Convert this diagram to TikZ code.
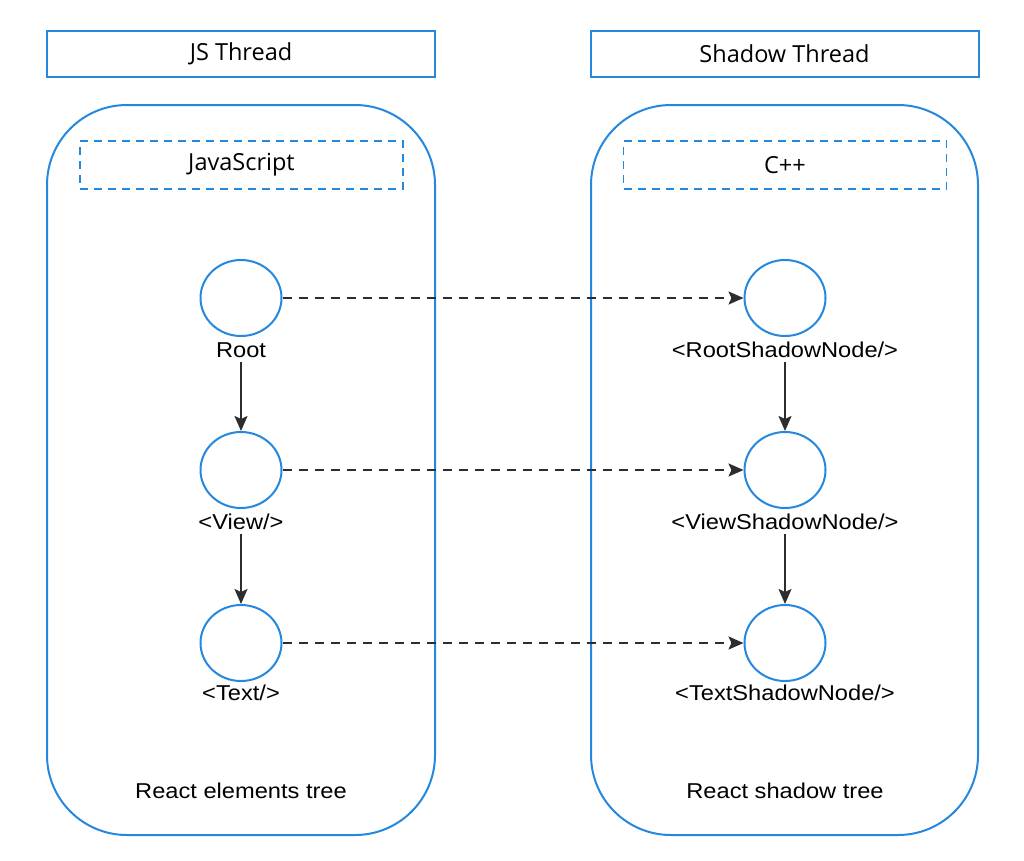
\documentclass[tikz,border=0pt]{standalone}
\usepackage{fontspec}
\setmainfont{Open Sans}
\newfontfamily\labfont[FakeStretch=1.1]{Liberation Sans}
\usetikzlibrary{arrows.meta,shapes.geometric}
\definecolor{bl}{RGB}{36,136,222}
\definecolor{ar}{RGB}{45,45,45}
\tikzset{
  hdr/.style={draw=bl,line width=2pt,minimum width=388pt,minimum height=46pt,inner sep=0pt,font=\fontsize{23.5}{27}\selectfont},
  lang/.style={draw=bl,line width=1.8pt,dash pattern=on 8pt off 6pt,minimum width=323pt,minimum height=48pt,inner sep=0pt,font=\fontsize{23.5}{27}\selectfont},
  big/.style={draw=bl,line width=2pt,rounded corners=80pt},
  circ/.style={draw=bl,line width=2pt,ellipse,minimum width=81pt,minimum height=76pt,inner sep=0pt},
  lab/.style={font=\labfont\fontsize{21.5}{24}\selectfont,inner sep=1pt},
  tree/.style={-{Stealth[length=15pt,width=13pt,inset=3pt]},draw=ar,line width=2pt},
  map/.style={-{Stealth[length=15pt,width=13pt,inset=3pt]},draw=ar,line width=2pt,dash pattern=on 9pt off 7pt},
}
\begin{document}
\begin{tikzpicture}[x=1pt,y=-1pt]
\useasboundingbox (0,0) rectangle (1024,860);
% headers
\node[hdr] (jsh) at (241,54) {JS Thread};
\node[hdr] (shh) at (784.5,54) {Shadow Thread};
% big boxes
\draw[big] (47,105) rectangle (435,835);
\draw[big] (591,105) rectangle (978,835);
% language boxes
\node[lang] (js) at (241.5,165) {JavaScript};
\node[lang] (cpp) at (785,165) {C++};
% left tree
\node[circ] (r) at (241,298) {};
\node[circ] (v) at (241,470) {};
\node[circ] (t) at (241,643) {};
\node[lab] (rl) at (241,350) {Root};
\node[lab] (vl) at (241,522) {<View/>};
\node[lab] (tl) at (241,693) {<Text/>};
% right tree
\node[circ] (rs) at (785,298) {};
\node[circ] (vs) at (785,470) {};
\node[circ] (ts) at (785,643) {};
\node[lab] (rsl) at (785,350) {<RootShadowNode/>};
\node[lab] (vsl) at (785,522) {<ViewShadowNode/>};
\node[lab] (tsl) at (785,693) {<TextShadowNode/>};
% bottom labels
\node[lab] (ret) at (241,791) {React elements tree};
\node[lab] (rst) at (785,791) {React shadow tree};
% arrows
\draw[tree] ([yshift=-3pt]rl.south) -- (v.north);
\draw[tree] ([yshift=-3pt]vl.south) -- (t.north);
\draw[tree] ([yshift=-3pt]rsl.south) -- (vs.north);
\draw[tree] ([yshift=-3pt]vsl.south) -- (ts.north);
\draw[map] (r.east) -- (rs.west);
\draw[map] (v.east) -- (vs.west);
\draw[map] (t.east) -- (ts.west);
\end{tikzpicture}
\end{document}
